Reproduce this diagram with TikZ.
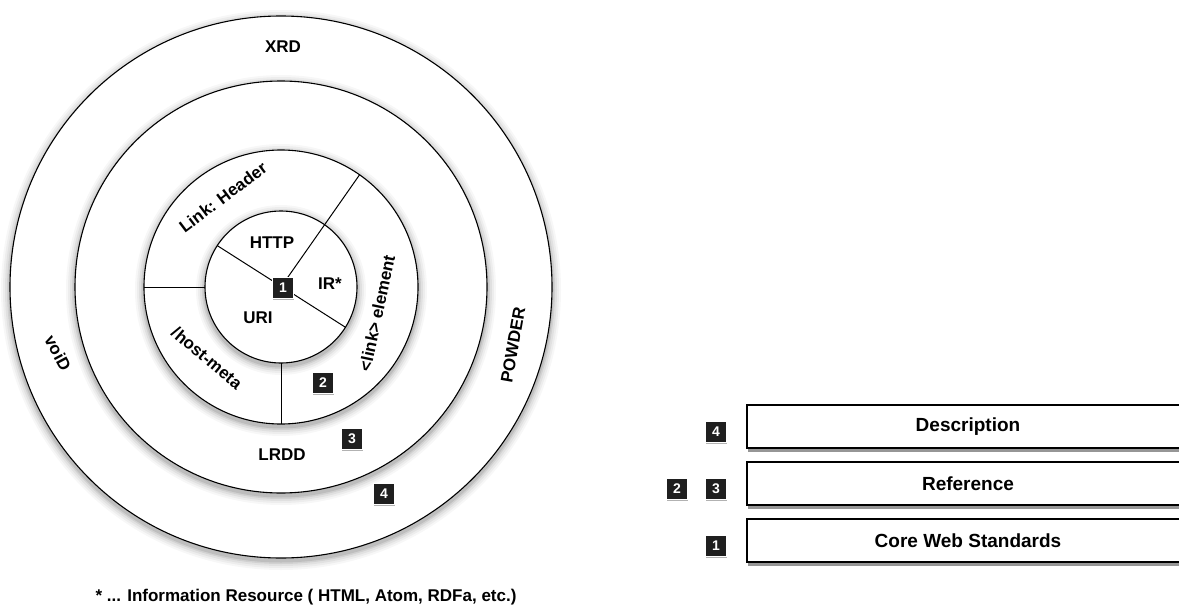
\documentclass[tikz,border=0pt]{standalone}
\usepackage{fontspec}
\setmainfont{Liberation Sans}
\usetikzlibrary{shadows,calc}
\begin{document}
\begin{tikzpicture}[x=1pt,y=-1pt,
  ring/.style={circle, draw=black, line width=1.1pt, fill=white, inner sep=0pt, outer sep=0pt, minimum size=#1},
  divider/.style={draw=black, line width=1pt},
  lab/.style={font=\bfseries\fontsize{17}{17}\selectfont, inner sep=0pt},
  numbox/.style={fill=black!88, draw=white, line width=1.4pt, text=white, font=\bfseries\fontsize{14}{14}\selectfont, minimum size=21pt, inner sep=0pt,
    drop shadow={shadow xshift=0.8pt, shadow yshift=-1.5pt, opacity=0.3, fill=black}},
  panel/.style={draw=black, line width=1.6pt, fill=white, minimum width=442pt, minimum height=43pt, inner sep=0pt,
    font=\bfseries\fontsize{19}{19}\selectfont,
    drop shadow={shadow xshift=1pt, shadow yshift=-4pt, opacity=0.55, fill=black!75}}
]
\useasboundingbox (0,0) rectangle (1179,605);
\clip (0,0) rectangle (1179,605);
\coordinate (ctr) at (281,287);
% rings from outer to inner, each with a soft shadow
\foreach \r/\n in {271/rIV,206/rIII,137/rII,76/rI}{
  \foreach \d/\o in {9/0.03,7/0.04,5/0.05,3/0.07,1.5/0.09}{
    \fill[black,opacity=\o] ($(ctr)+(0,3)$) circle[radius={(\r+\d)*1pt}];
  }
  \node[ring=2*\r pt] (\n) at (ctr) {};
}
% dividers
\draw[divider] (rI.147.5) -- (rI.-32.5);
\draw[divider] (rI.center) -- (rII.55);
\draw[divider] (rI.180) -- (rII.180);
\draw[divider] (rI.270) -- (rII.270);
% labels
\node[lab] (http) at (272,243) {HTTP};
\node[lab] (ir) at (330,284) {IR*};
\node[lab] (uri) at (258,318) {URI};
\node[lab, rotate=37] (linkh) at (223,197) {Link: Header};
\node[lab, rotate=-40] (hostm) at (207,358) {/host-meta};
\node[lab, rotate=78] (linke) at (377,313) {<link> element};
\node[lab] (lrdd) at (282,455) {LRDD};
\node[lab] (xrd) at (283,47) {XRD};
\node[lab, rotate=-62] (void) at (58,353) {voiD};
\node[lab, rotate=80] (powder) at (513,345) {POWDER};
% number boxes in the rings
\node[numbox] (n1) at (283,288) {1};
\node[numbox] (n2) at (323,383) {2};
\node[numbox] (n3) at (352,439) {3};
\node[numbox] (n4) at (384,494) {4};
% footnote
\node[lab] (foot) at (306,597) {* ... Information Resource ( HTML, Atom, RDFa, etc.)};
% right panel
\node[panel] (desc) at (968,426.5) {Description};
\node[panel] (ref) at (968,483.5) {Reference};
\node[panel] (core) at (968,540.5) {Core Web Standards};
\node[numbox] (p4) at (716,432) {4};
\node[numbox] (p2) at (677,489) {2};
\node[numbox] (p3) at (716,489) {3};
\node[numbox] (p1) at (716,546) {1};
\end{tikzpicture}
\end{document}
